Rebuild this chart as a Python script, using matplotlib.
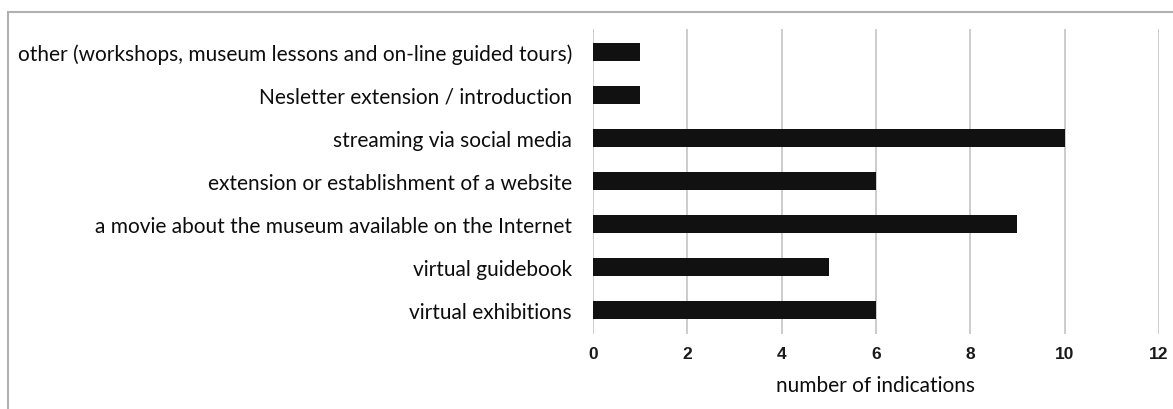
import matplotlib
matplotlib.use("Agg")
import matplotlib.pyplot as plt
from matplotlib.patches import Rectangle

# Survey answers, listed bottom to top
categories = [
    "virtual exhibitions",
    "virtual guidebook",
    "a movie about the museum available on the Internet",
    "extension or establishment of a website",
    "streaming via social media",
    "Nesletter extension / introduction",
    "other (workshops, museum lessons and on-line guided tours)",
]
counts = [6, 5, 9, 6, 10, 1, 1]
xticks = [0, 2, 4, 6, 8, 10, 12]

fig = plt.figure(figsize=(11.73, 4.10), dpi=100)
ax = fig.add_axes([0.5055, 0.183, 0.988 - 0.5055, 0.927 - 0.183])

ax.barh(range(len(categories)), counts, height=0.42, color="#111111", zorder=3)

ax.set_xlim(0, 12)
ax.set_ylim(-0.56, 6.53)
ax.set_xticks(xticks)
ax.set_xticklabels([str(t) for t in xticks],
                   family=["Liberation Sans Narrow", "Liberation Sans", "DejaVu Sans"],
                   fontsize=12.5, fontweight="bold", color="#1a1a1a")
ax.set_yticks(range(len(categories)))
ax.set_yticklabels(categories, family=["Lato", "DejaVu Sans"], fontsize=15,
                   color="#0d0d0d")
ax.tick_params(length=0, axis="y", pad=15)
ax.tick_params(length=0, axis="x", pad=9)

ax.grid(axis="x", color="#c4c4c4", linewidth=1.2, zorder=0)
for s in ax.spines.values():
    s.set_visible(False)

ax.set_xlabel("number of indications", family=["Lato", "DejaVu Sans"],
              fontsize=15, color="#0d0d0d", labelpad=10)

# light frame around the chart
fig.patches.append(Rectangle((8 / 1173, -0.1), 1.2, 1.1 - 13 / 410,
                             transform=fig.transFigure, fill=False,
                             edgecolor="#b0b0b0", linewidth=1.5))

fig.savefig("out.png", dpi=100)
